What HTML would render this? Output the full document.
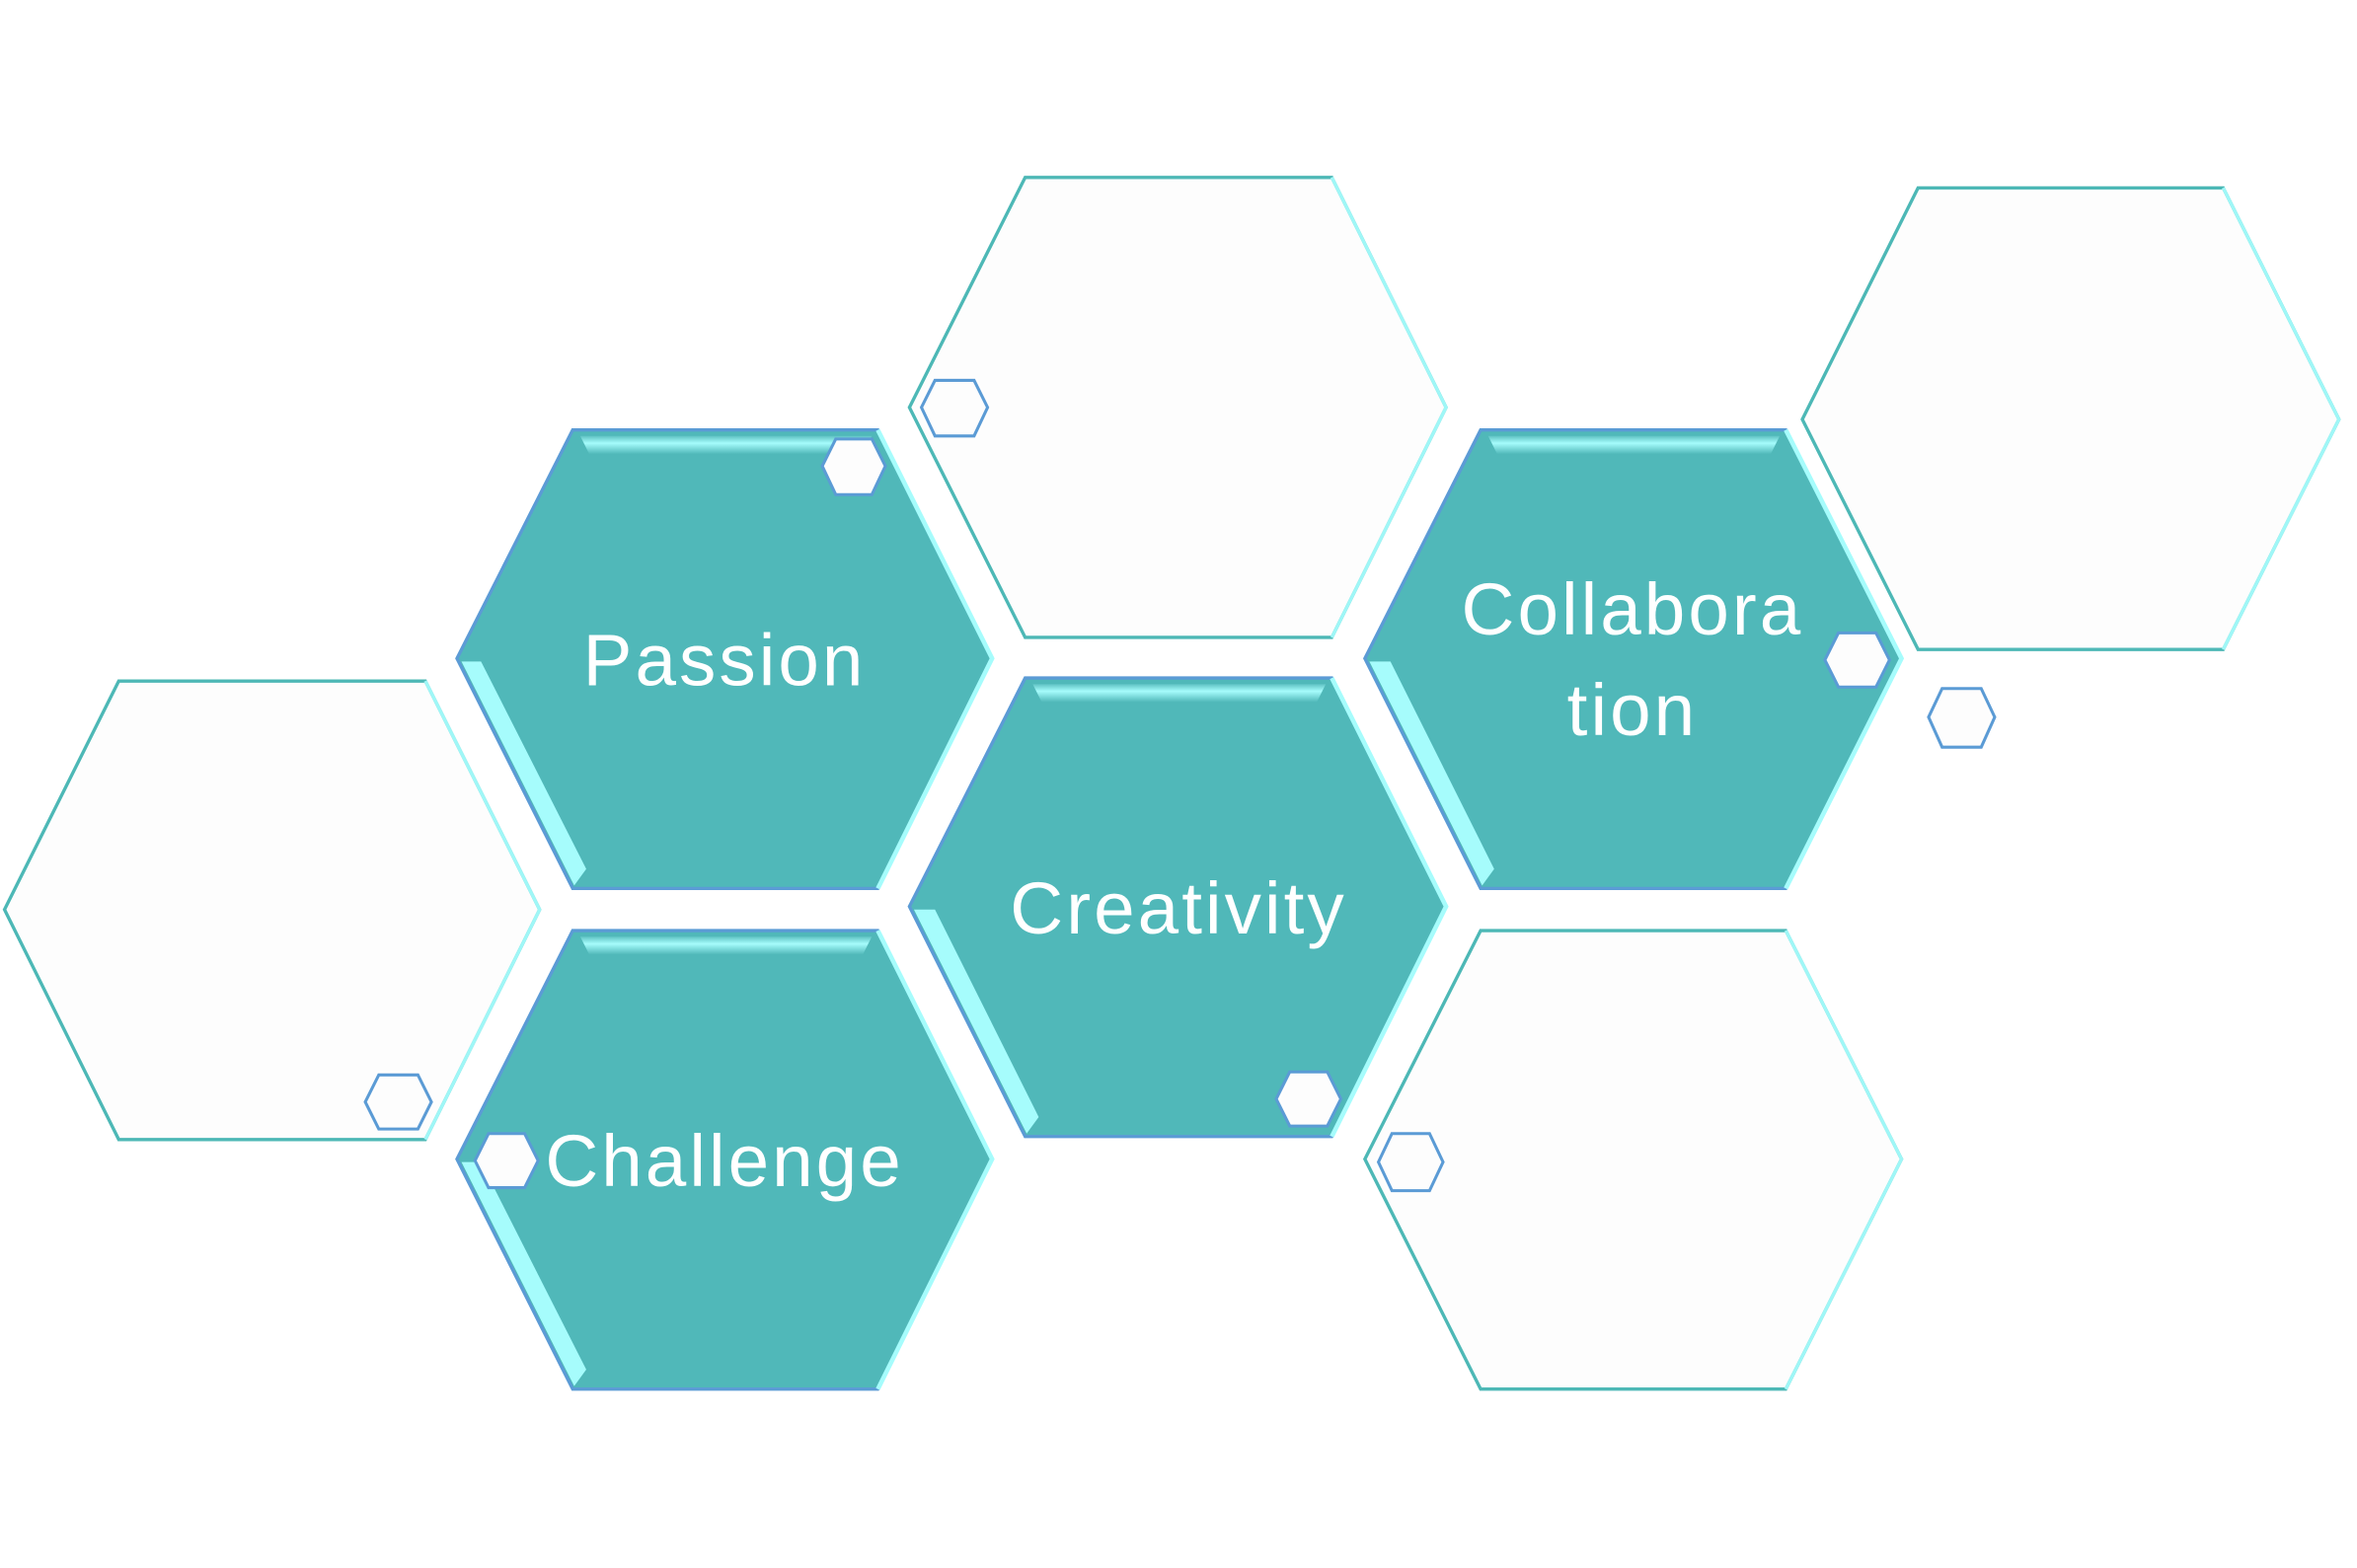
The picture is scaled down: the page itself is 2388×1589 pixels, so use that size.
<!DOCTYPE html>
<html><head><meta charset="utf-8"><style>
html,body{margin:0;padding:0;background:#fff;}
svg{display:block;}
text{font-family:"Liberation Sans",sans-serif;fill:#fff;font-size:49px;text-anchor:middle;letter-spacing:2px;}
</style></head><body>
<svg width="2388" height="1589" viewBox="0 0 1568 1043" preserveAspectRatio="none" xmlns="http://www.w3.org/2000/svg">
<defs>
<linearGradient id="tg" x1="0" y1="0" x2="0" y2="1">
<stop offset="0" stop-color="#5FC3C4"/><stop offset="0.4" stop-color="#A6FCFC"/><stop offset="1" stop-color="#50B8B9"/>
</linearGradient>
</defs>
<g fill="#FDFDFD" stroke-width="2.2">
<g><polygon points="605,271 682,118 886,118 962,271 886,424 682,424" stroke="#4DB8B6"/>
<polyline points="886,118 962,271 886,424" fill="none" stroke="#9FF7F7"/></g>
<g><polygon points="1199,279 1276,125 1479,125 1556,279 1479,432 1276,432" stroke="#4DB8B6"/>
<polyline points="1479,125 1556,279 1479,432" fill="none" stroke="#9FF7F7"/></g>
<g><polygon points="3,605 79,453 283,453 359,605 283,758 79,758" stroke="#4DB8B6"/>
<polyline points="283,453 359,605 283,758" fill="none" stroke="#9FF7F7"/></g>
<g><polygon points="908,771 985,619 1188,619 1265,771 1188,924 985,924" stroke="#4DB8B6"/>
<polyline points="1188,619 1265,771 1188,924" fill="none" stroke="#9FF7F7"/></g>
</g>
<g stroke-width="2.2">
<polygon points="304,438 381,286 584,286 660,438 584,591 381,591" fill="#50B8B9" stroke="#5B9BD5"/>
<polygon points="386,290 580,290 574,302 392,302" fill="url(#tg)"/>
<polyline points="584,286 660,438 584,591" fill="none" stroke="#A6FCFC" stroke-width="3"/>
<polygon points="307,440 320,440 390,578 382,589" fill="#A6FCFC"/>

<polygon points="605,603 682,451 886,451 962,603 886,756 682,756" fill="#50B8B9" stroke="#5B9BD5"/>
<polygon points="687,455 882,455 876,467 693,467" fill="url(#tg)"/>
<polyline points="886,451 962,603 886,756" fill="none" stroke="#A6FCFC" stroke-width="3"/>
<polygon points="608,605 622,605 691,743 683,754" fill="#A6FCFC"/>

<polygon points="908,438 985,286 1188,286 1265,438 1188,591 985,591" fill="#50B8B9" stroke="#5B9BD5"/>
<polygon points="990,290 1184,290 1178,302 996,302" fill="url(#tg)"/>
<polyline points="1188,286 1265,438 1188,591" fill="none" stroke="#A6FCFC" stroke-width="3"/>
<polygon points="911,440 925,440 994,578 986,589" fill="#A6FCFC"/>

<polygon points="304,771 381,619 584,619 660,771 584,924 381,924" fill="#50B8B9" stroke="#5B9BD5"/>
<polygon points="386,623 580,623 574,635 392,635" fill="url(#tg)"/>
<polyline points="584,619 660,771 584,924" fill="none" stroke="#A6FCFC" stroke-width="3"/>
<polygon points="307,773 320,773 390,911 382,922" fill="#A6FCFC"/>
</g>
<g fill="#FDFDFD" stroke-width="2">
<polygon points="613,271 622,253 648,253 657,271 648,290 622,290" stroke="#5B9BD5"/>
<polygon points="1283,477 1292,458 1318,458 1327,477 1318,497 1292,497" stroke="#5B9BD5"/>
<polygon points="547,310 556,292 580,292 589,310 580,329 556,329" stroke="#5B9BD5"/>
<polygon points="243,733 252,715 278,715 287,733 278,751 252,751" stroke="#5B9BD5"/>
<polygon points="849,731 858,713 883,713 892,731 883,749 858,749" stroke="#5B9BD5"/>
<polygon points="1214,439 1223,421 1248,421 1257,439 1248,457 1223,457" stroke="#5B9BD5"/>
<polygon points="316,772 325,754 349,754 358,772 349,790 325,790" stroke="#5B9BD5"/>
<polygon points="917,773 926,754 951,754 960,773 951,792 926,792" stroke="#5B9BD5"/>
</g>
<text x="482" y="456">Passion</text>
<text x="784" y="621">Creativity</text>
<text x="1086" y="422">Collabora</text>
<text x="1086" y="489">tion</text>
<text x="482" y="789">Challenge</text>
</svg>
</body></html>
